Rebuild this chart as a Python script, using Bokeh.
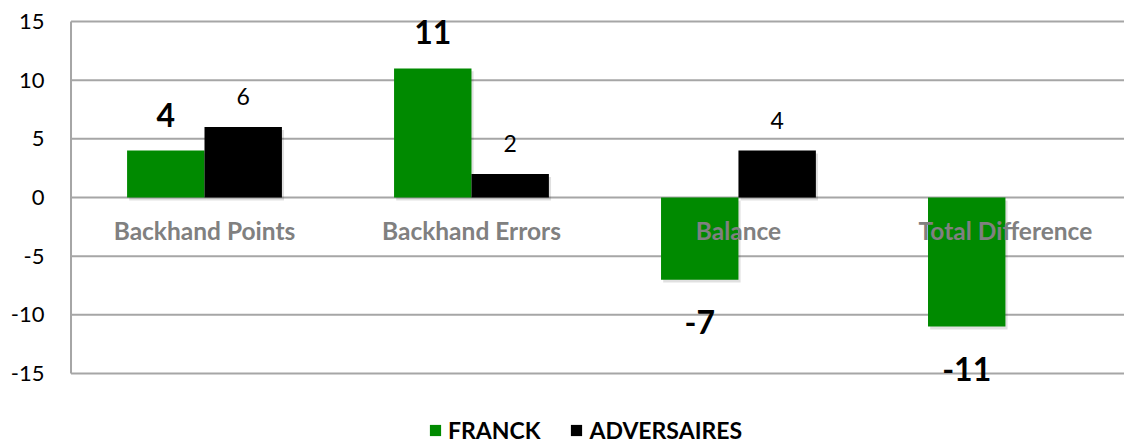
import numpy as np
from bokeh.plotting import figure
from bokeh.models import Range1d, FixedTicker, Legend, LegendItem
from bokeh.core.properties import value
from bokeh.embed import file_html
from bokeh.resources import INLINE

categories = ["Backhand Points", "Backhand Errors", "Balance", "Total Difference"]
franck = [4, 11, -7, -11]
adversaires = [6, 2, 4, None]
y_ticks = [-15, -10, -5, 0, 5, 10, 15]

GREEN = "#008A00"
GRID = "#A6A6A6"
FONT = "Lato"
W = 0.29

X0, X1 = -0.0094, 3.946
Y0, Y1 = -21.136, 16.79

p = figure(width=1124, height=445, output_backend="svg", toolbar_location=None,
           x_range=Range1d(X0, X1), y_range=Range1d(Y0, Y1),
           min_border_left=68, min_border_right=0, min_border_top=0, min_border_bottom=0)
p.outline_line_color = None
p.xaxis.visible = False
p.xgrid.visible = False
p.ygrid.visible = False

yax = p.yaxis[0]
yax.ticker = FixedTicker(ticks=y_ticks)
yax.major_label_overrides = {t: str(t) for t in y_ticks}
yax.major_tick_line_color = None
yax.minor_tick_line_color = None
yax.major_tick_in = 0
yax.major_tick_out = 0
yax.axis_line_color = None
yax.major_label_text_font = FONT
yax.major_label_text_font_size = "22px"
yax.major_label_text_color = "#000000"
yax.major_label_standoff = 24

# gridlines and axis line
p.segment(x0=[0] * len(y_ticks), x1=[X1] * len(y_ticks), y0=y_ticks, y1=y_ticks,
          line_color=GRID, line_width=2)
p.segment(x0=[0], x1=[0], y0=[min(y_ticks)], y1=[max(y_ticks)], line_color=GRID, line_width=2)

idx = np.arange(len(categories)) + 0.5
fx = [float(v) for v in idx - W / 2]
a_idx = [i for i, v in enumerate(adversaires) if v is not None]
ax = [float(idx[i] + W / 2) for i in a_idx]
av = [adversaires[i] for i in a_idx]

# soft shadows
p.vbar(x=[x + 0.008 for x in fx], top=[v - 0.25 for v in franck], bottom=-0.25,
       width=W, fill_color="#000000", fill_alpha=0.12, line_color=None)
p.vbar(x=[x + 0.008 for x in ax], top=[v - 0.25 for v in av], bottom=-0.25,
       width=W, fill_color="#000000", fill_alpha=0.12, line_color=None)

rf = p.vbar(x=fx, top=franck, bottom=0, width=W, fill_color=GREEN, line_color=None)
ra = p.vbar(x=ax, top=av, bottom=0, width=W, fill_color="#000000", line_color=None)

# data labels
fpos = [(x, v) for x, v in zip(fx, franck) if v >= 0]
fneg = [(x, v) for x, v in zip(fx, franck) if v < 0]
p.text(x=[a for a, b in fpos], y=[b for a, b in fpos], text=[str(b) for a, b in fpos],
       text_align="center", text_baseline="alphabetic", y_offset=-36,
       text_font=value(FONT), text_font_size="32px", text_font_style="bold", text_color="#000000")
p.text(x=[a for a, b in fneg], y=[b for a, b in fneg], text=[str(b) for a, b in fneg],
       text_align="center", text_baseline="alphabetic", y_offset=42,
       text_font=value(FONT), text_font_size="32px", text_font_style="bold", text_color="#000000")
p.text(x=ax, y=av, text=[str(v) for v in av],
       text_align="center", text_baseline="alphabetic", y_offset=-30.5,
       text_font=value(FONT), text_font_size="23px", text_color="#000000")

# category labels at zero line
p.text(x=[float(v) for v in idx], y=[0] * len(categories), text=categories, text_align="center",
       text_baseline="alphabetic", y_offset=33, text_font=value(FONT),
       text_font_size="24.5px", text_font_style="bold", text_color="#808080")

legend = Legend(items=[LegendItem(label="FRANCK", renderers=[rf]),
                       LegendItem(label="ADVERSAIRES", renderers=[ra])],
                orientation="horizontal", location=(360, 1),
                border_line_color=None, background_fill_alpha=0,
                label_text_font=FONT, label_text_font_size="23px", label_text_font_style="bold",
                label_text_color="#000000", glyph_width=14, glyph_height=14,
                spacing=29, padding=0, margin=0, label_standoff=6)
p.add_layout(legend, "center")

open("out.html", "w").write(file_html(p, INLINE))
